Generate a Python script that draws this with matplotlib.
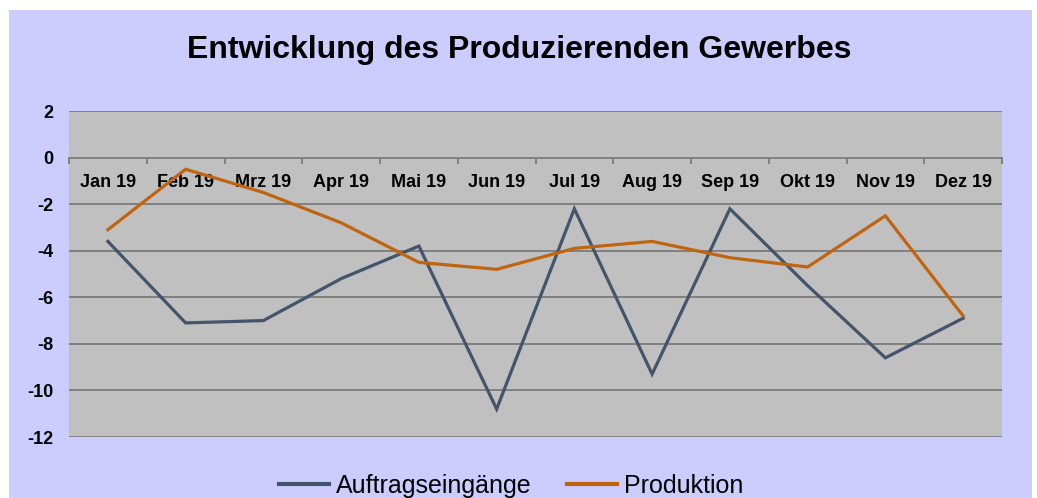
import numpy as np
import matplotlib.pyplot as plt
from matplotlib.patches import Rectangle

plt.rcParams['font.family'] = ['Liberation Sans', 'DejaVu Sans']

monate = ["Jan 19", "Feb 19", "Mrz 19", "Apr 19", "Mai 19", "Jun 19",
          "Jul 19", "Aug 19", "Sep 19", "Okt 19", "Nov 19", "Dez 19"]
auftragseingaenge = [-3.6, -7.1, -7.0, -5.2, -3.8, -10.8, -2.2, -9.3, -2.2, -5.5, -8.6, -6.9]
produktion = [-3.1, -0.5, -1.5, -2.8, -4.5, -4.8, -3.9, -3.6, -4.3, -4.7, -2.5, -6.8]
y_ticks = [2, 0, -2, -4, -6, -8, -10, -12]

bg_color = "#CCCCFF"
plot_color = "#C0C0C0"
grid_color = "#808080"
navy = "#44546A"
orange = "#C0650F"

fig = plt.figure(figsize=(10.37, 4.98), dpi=100, facecolor="white")
# lavender chart area with small white margin on top/left/right
fig.patches.append(Rectangle((9 / 1037, 0), (1032 - 9) / 1037, 1 - 10 / 498,
                             transform=fig.transFigure, facecolor=bg_color,
                             edgecolor="none", zorder=-10))

ax = fig.add_axes([69 / 1037, 1 - 437 / 498, (1002 - 69) / 1037, (437 - 111) / 498])
ax.set_zorder(1)
ax.set_facecolor(plot_color)

x = np.arange(len(monate))
ax.plot(x, auftragseingaenge, color=navy, linewidth=2.3, label="Auftragseingänge",
        solid_joinstyle="miter", zorder=3)
ax.plot(x, produktion, color=orange, linewidth=2.3, label="Produktion",
        solid_joinstyle="miter", zorder=3)

ax.set_xlim(-0.5, len(monate) - 0.5)
ax.set_ylim(-12, 2)
ax.set_yticks(y_ticks)
ax.set_yticklabels([str(v) for v in y_ticks], fontsize=13, fontweight="bold")
ax.tick_params(axis="y", length=0, pad=11)
ax.yaxis.grid(True, color=grid_color, linewidth=1.4)
ax.set_axisbelow(True)

for side in ["left", "right", "top"]:
    ax.spines[side].set_visible(False)
ax.spines["bottom"].set_position(("data", 0))
ax.spines["bottom"].set_color(grid_color)
ax.spines["bottom"].set_linewidth(1.4)
ax.spines["bottom"].set_zorder(2)

ax.set_xticks(x)
ax.set_xticklabels(monate, fontsize=13, fontweight="bold")
ax.tick_params(axis="x", which="major", length=0, pad=11.5)
ax.set_xticks(np.arange(-0.5, len(monate)), minor=True)
ax.tick_params(axis="x", which="minor", length=4, width=1.4, color=grid_color, direction="out")

fig.text(0.501, 0.90, "Entwicklung des Produzierenden Gewerbes", ha="center", va="center",
         fontsize=23, fontweight="bold")

leg = fig.legend(loc="center", bbox_to_anchor=(0.493, 0.025), ncol=2, frameon=False,
                 fontsize=18, handlelength=2.0, handletextpad=0.25, columnspacing=1.45)
for line in leg.get_lines():
    line.set_linewidth(3)

fig.savefig("out.png", dpi=100, facecolor=fig.get_facecolor())
